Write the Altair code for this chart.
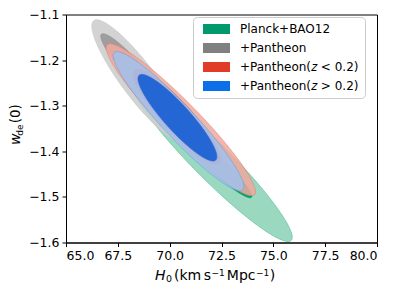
import altair as alt
import numpy as np
import pandas as pd

# ---- data ----
datasets = ["Planck+BAO12", "+Pantheon", "+Pantheon(𝑧 < 0.2)", "+Pantheon(𝑧 > 0.2)"]
legend_colors = ["#00996b", "#808080", "#e03c28", "#0a6fe8"]

# contours: (dataset index, level) drawn in this order
contour_set = [0, 0, 1, 1, 2, 2, 3, 3]
contour_level = ["2sigma", "1sigma"] * 4
center_h0 = [72.043, 72.043, 68.545, 68.232, 70.535, 70.355, 70.427, 70.374]
center_w = [-1.4212, -1.4212, -1.2468, -1.2206, -1.3307, -1.3242, -1.3340, -1.3263]
half_h0 = [3.869, 1.922, 2.300, 1.558, 3.604, 2.093, 3.150, 1.901]
half_w = [0.1766, 0.0807, 0.1352, 0.0785, 0.1668, 0.1036, 0.1526, 0.0949]
corr = [-0.948, -0.954, -0.897, -0.928, -0.947, -0.899, -0.942, -0.903]
fill_colors = ["#9ad8c0", "#00a06a", "#cfcfcf", "#999999",
               "#f2a99e", "#e86a5a", "#a3c1ee", "#1d63d4"]
edge_colors = ["#5cc29e", "#00a06a", "#c4c4c4", "#8f8f8f",
               "#e0806f", "#e86a5a", "#5fa3d6", "#1d63d4"]
fill_opacity = [1.0, 1.0, 0.9, 0.9, 0.85, 0.85, 0.85, 0.95]

x_ticks = [65.0, 67.5, 70.0, 72.5, 75.0, 77.5, 80.0]
y_ticks = [-1.6, -1.5, -1.4, -1.3, -1.2, -1.1]

FONT = "DejaVu Sans"
W, H = 311, 228

xs = alt.Scale(domain=[65, 80], nice=False, zero=False)
ys = alt.Scale(domain=[-1.6, -1.1], nice=False, zero=False)


def contour_frame(i):
    t = np.linspace(0, np.pi, 160)
    u = np.cos(t)
    x = center_h0[i] + half_h0[i] * u
    mid = center_w[i] + corr[i] * half_w[i] * u
    half = half_w[i] * np.sqrt(1 - corr[i] ** 2) * np.sin(t)
    return pd.DataFrame({"h0": x, "lo": mid - half, "hi": mid + half})


layers = []

# legend carrier (invisible marks, legend only)
leg_df = pd.DataFrame({"dataset": datasets, "h0": center_h0[::2], "w": center_w[::2]})
legend_layer = alt.Chart(leg_df).mark_point(filled=True, opacity=0).encode(
    x=alt.X("h0:Q", scale=xs, axis=alt.Axis(values=x_ticks, format=".1f", title=None)),
    y=alt.Y("w:Q", scale=ys, axis=alt.Axis(values=y_ticks, format=".1f", title=None)),
    color=alt.Color(
        "dataset:N",
        scale=alt.Scale(domain=datasets, range=legend_colors),
        legend=alt.Legend(
            title=None, orient="none", legendX=127, legendY=2.5,
            symbolType="M-0.4,-1H5.0V1H-0.4Z", symbolSize=100,
            symbolOpacity=1, symbolStrokeWidth=0,
            labelFont=FONT, labelFontSize=12, labelColor="black",
            labelOffset=29, padding=6, rowPadding=7,
            fillColor="white", strokeColor="#cccccc", cornerRadius=4,
        ),
    ),
)
layers.append(legend_layer)

for i in range(len(contour_set)):
    df = contour_frame(i)
    layers.append(
        alt.Chart(df).mark_area(
            color=fill_colors[i], opacity=fill_opacity[i],
            stroke=edge_colors[i], strokeWidth=0.7,
        ).encode(
            x=alt.X("h0:Q", scale=xs),
            y=alt.Y("lo:Q", scale=ys),
            y2="hi:Q",
        )
    )

one = pd.DataFrame({"a": [0]})


def txt(s, x, y, size, angle=0, italic=False):
    kw = dict(text=s, font=FONT, fontSize=size, align="left",
              baseline="alphabetic", color="black")
    if angle:
        kw["angle"] = angle
    if italic:
        kw["fontStyle"] = "italic"
    return alt.Chart(one).mark_text(**kw).encode(x=alt.value(x), y=alt.value(y))


# x axis title pieces: H_0 (km s^-1 Mpc^-1)
layers += [
    txt("H", 89, 265.5, 14, italic=True),
    txt("0", 100, 267.8, 9.5),
    txt("(km", 108, 265.5, 14),
    txt("s", 137.7, 265.5, 14),
    txt("−1", 145.5, 261, 9),
    txt("Mpc", 160.8, 265.5, 14),
    txt("−1", 190, 261, 9),
    txt(")", 203.8, 265.5, 14),
]
# y axis title pieces: w_de(0)
layers += [
    txt("w", -46, 130.5, 14, angle=270, italic=True),
    txt("de", -43, 121.2, 9, angle=270),
    txt("(0)", -46, 108.8, 13.5, angle=270),
]

chart = alt.layer(*layers).properties(
    width=W, height=H,
    autosize=alt.AutoSizeParams(type="none"),
    padding={"left": 58, "top": 6.5, "right": 14, "bottom": 41},
).configure_view(
    stroke="black", strokeWidth=1
).configure_axis(
    labelFont=FONT, labelFontSize=12.5, labelColor="black",
    domainColor="black", tickColor="black", tickSize=4,
    labelPadding=3, grid=False, domainWidth=1, tickWidth=1,
)

chart.save("out.html", embed_options={"renderer": "svg", "actions": False})
